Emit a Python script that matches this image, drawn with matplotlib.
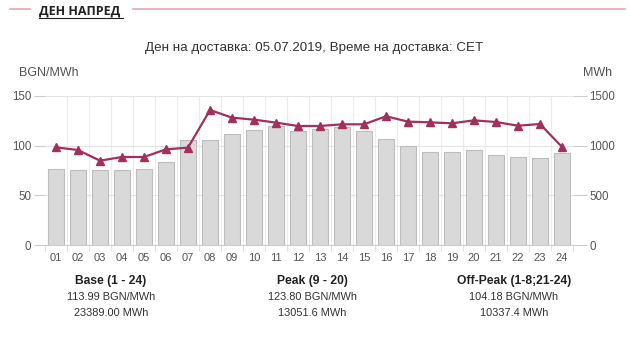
import numpy as np
import matplotlib.pyplot as plt
import matplotlib.ticker as mticker

plt.rcParams['font.family'] = ['Liberation Sans', 'DejaVu Sans']

# hourly day-ahead data, 05.07.2019
hours = ['%02d' % h for h in range(1, 25)]
volume = [762, 755, 755, 755, 762, 840, 1055, 1058, 1122, 1162, 1196, 1152,
          1172, 1189, 1152, 1072, 998, 941, 941, 961, 904, 887, 877, 924]   # MWh
price = [98.3, 95.6, 84.9, 88.6, 88.6, 96.3, 98.0, 135.9, 128.2, 126.2, 123.2, 119.8,
         119.8, 121.5, 121.5, 129.6, 124.2, 123.5, 122.5, 125.5, 123.8, 120.1, 121.8, 98.7]  # BGN/MWh
price_ticks = [0, 50, 100, 150]
volume_ticks = [0, 500, 1000, 1500]

summary_titles = ['Base (1 - 24)', 'Peak (9 - 20)', 'Off-Peak (1-8;21-24)']
summary_price = ['113.99 BGN/MWh', '123.80 BGN/MWh', '104.18 BGN/MWh']
summary_volume = ['23389.00 MWh', '13051.6 MWh', '10337.4 MWh']

W, H = 630, 342
fig = plt.figure(figsize=(W / 100, H / 100), dpi=100)
px = lambda x, y: (x / W, 1 - y / H)

ax = fig.add_axes([45 / W, 1 - 245 / H, 528 / W, 149 / H])
ax2 = ax.twinx()
ax.set_zorder(ax2.get_zorder() + 1)
ax.patch.set_visible(False)

x = np.arange(len(hours))
ax2.bar(x, volume, width=0.74, color='#d9d9d9', edgecolor='#bdbdbd', lw=0.8, zorder=2)
ax.plot(x, price, color='#a1305e', lw=1.6, marker='^', ms=6, zorder=5)

ax.set_xlim(-0.5, len(hours) - 0.5)
ax.set_ylim(0, 150)
ax2.set_ylim(0, 1500)
ax.set_yticks(price_ticks)
ax2.set_yticks(volume_ticks)
ax.set_xticks(x)
ax.set_xticklabels(hours)
ax.xaxis.set_minor_locator(mticker.FixedLocator(np.arange(-0.5, len(hours), 1)))

grey = '#555555'
ax.tick_params(axis='x', which='major', length=0, pad=6, labelsize=8, labelcolor=grey)
ax.tick_params(axis='x', which='minor', length=4, color='#dddddd')
ax.tick_params(axis='y', length=8, color='#cccccc', pad=2, labelsize=8.3, labelcolor=grey)
ax2.tick_params(axis='y', length=10, color='#cccccc', pad=2, labelsize=8.3, labelcolor=grey)

# grid: horizontal on price axis, vertical at category boundaries
ax2.set_axisbelow(True)
ax2.yaxis.grid(True, color='#e4e4e4', lw=0.8)
for b in np.arange(0.5, len(hours) - 1, 1):
    ax2.axvline(b, color='#ececec', lw=0.8, zorder=0)

for a in (ax, ax2):
    for s in ('top', 'left', 'right'):
        a.spines[s].set_visible(False)
ax2.spines['bottom'].set_visible(False)
ax.spines['bottom'].set_color('#cccccc')

# header
fig.add_artist(plt.Line2D([10 / W, 30 / W], [1 - 9 / H] * 2, color='#e8a4b0', lw=1.2))
fig.add_artist(plt.Line2D([133 / W, 625 / W], [1 - 9 / H] * 2, color='#e8a4b0', lw=1.2))
fig.text(*px(39, 11), 'ДЕН НАПРЕД', fontsize=9, fontweight='bold', color='#222222',
         family=['Open Sans', 'DejaVu Sans'], va='center', ha='left')
fig.add_artist(plt.Line2D([39 / W, 123 / W], [1 - 18 / H] * 2, color='#222222', lw=0.8))

fig.text(*px(314, 48), 'Ден на доставка: 05.07.2019, Време на доставка: CET',
         fontsize=9.6, color='#333333', ha='center', va='center')
fig.text(*px(19, 73), 'BGN/MWh', fontsize=9, color=grey, ha='left', va='center')
fig.text(*px(612, 73), 'MWh', fontsize=9, color=grey, ha='right', va='center')

for cx, t, p, v in zip([111, 312, 514], summary_titles, summary_price, summary_volume):
    fig.text(*px(cx, 281), t, fontsize=8.7, fontweight='bold', color='#222222', ha='center', va='center')
    fig.text(*px(cx, 297), p, fontsize=7.9, color='#333333', ha='center', va='center')
    fig.text(*px(cx, 313), v, fontsize=7.9, color='#333333', ha='center', va='center')

plt.savefig('out.png', dpi=100)
